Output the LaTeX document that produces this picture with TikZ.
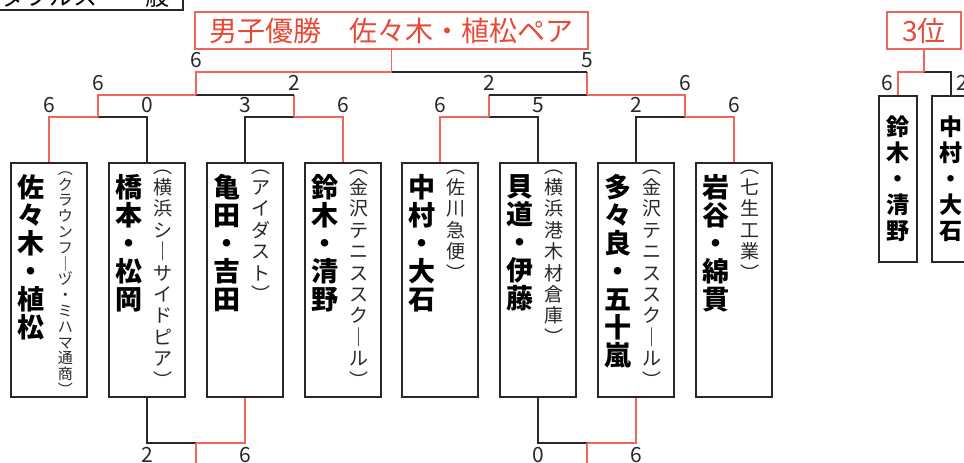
\documentclass[tikz,border=0pt]{standalone}
\usepackage{fontspec}
\newfontfamily\jp{Noto Sans CJK JP}
\usetikzlibrary{positioning}
\definecolor{winred}{RGB}{238,102,92}
\definecolor{headred}{RGB}{232,72,54}
\definecolor{inkgray}{RGB}{40,40,40}

\begin{document}
\begin{tikzpicture}[x=1pt,y=-1pt,
    win/.style={draw=winred,line width=1.3pt},
    lose/.style={draw=inkgray,line width=1.3pt},
    pairbox/.style={draw=inkgray,line width=1.4pt,minimum width=76pt,minimum height=234pt,inner sep=0pt},
    pairname/.style={anchor=north,align=center,inner sep=0pt,text=black,font=\jp\bfseries\fontsize{27}{28}\selectfont},
    firm/.style={anchor=north,align=center,inner sep=0pt,text=inkgray,font=\jp\fontsize{19}{21.4}\selectfont},
    score/.style={inner sep=0pt,text=inkgray,font=\jp\fontsize{21}{21}\selectfont},
    headbox/.style={draw=winred,line width=1.3pt,minimum height=37pt,inner sep=0pt,text=headred,font=\jp\fontsize{28}{28}\selectfont}
  ]
  \useasboundingbox (0,0) rectangle (964,463);
  \clip (0,0) rectangle (964,463);

  \node[draw=inkgray,line width=1.4pt,minimum width=195pt,minimum height=28pt,inner sep=0pt,
        font=\jp\fontsize{24}{24}\selectfont] (tab) at (85.5,-4) {ダブルス　一般};

  \node[headbox,minimum width=393pt] (champ) at (391.5,30.5) {男子優勝　佐々木・植松ペア};
  \node[headbox,minimum width=74pt] (third) at (924,30.5) {3位};

  \foreach \i/\x in {1/49,2/147,3/245,4/343,5/440,6/538,7/636,8/734}
    \node[pairbox] (p\i) at (\x,280) {};

  \node[pairname] (n1) at ([xshift=21pt,yshift=-12pt]p1.north west) {佐\\々\\木\\・\\植\\松};
  \node[pairname] (n2) at ([xshift=21pt,yshift=-12pt]p2.north west) {橋\\本\\・\\松\\岡};
  \node[pairname] (n3) at ([xshift=21pt,yshift=-12pt]p3.north west) {亀\\田\\・\\吉\\田};
  \node[pairname] (n4) at ([xshift=21pt,yshift=-12pt]p4.north west) {鈴\\木\\・\\清\\野};
  \node[pairname] (n5) at ([xshift=21pt,yshift=-12pt]p5.north west) {中\\村\\・\\大\\石};
  \node[pairname] (n6) at ([xshift=21pt,yshift=-12pt]p6.north west) {貝\\道\\・\\伊\\藤};
  \node[pairname] (n7) at ([xshift=21pt,yshift=-12pt]p7.north west) {多\\々\\良\\・\\五\\十\\嵐};
  \node[pairname] (n8) at ([xshift=21pt,yshift=-12pt]p8.north west) {岩\\谷\\・\\綿\\貫};

  \node[firm,font=\jp\fontsize{15}{15.8}\selectfont] (f1) at ([xshift=55pt,yshift=-9pt]p1.north west)
    {︵\\ク\\ラ\\ウ\\ン\\フ\\｜\\ヅ\\・\\ミ\\ハ\\マ\\通\\商\\︶};
  \node[firm] (f2) at ([xshift=55pt,yshift=-7pt]p2.north west) {︵\\横\\浜\\シ\\｜\\サ\\イ\\ド\\ピ\\ア\\︶};
  \node[firm] (f3) at ([xshift=55pt,yshift=-7pt]p3.north west) {︵\\ア\\イ\\ダ\\ス\\ト\\︶};
  \node[firm] (f4) at ([xshift=55pt,yshift=-7pt]p4.north west) {︵\\金\\沢\\テ\\ニ\\ス\\ス\\ク\\｜\\ル\\︶};
  \node[firm] (f5) at ([xshift=55pt,yshift=-7pt]p5.north west) {︵\\佐\\川\\急\\便\\︶};
  \node[firm] (f6) at ([xshift=55pt,yshift=-7pt]p6.north west) {︵\\横\\浜\\港\\木\\材\\倉\\庫\\︶};
  \node[firm] (f7) at ([xshift=55pt,yshift=-7pt]p7.north west) {︵\\金\\沢\\テ\\ニ\\ス\\ス\\ク\\｜\\ル\\︶};
  \node[firm] (f8) at ([xshift=55pt,yshift=-7pt]p8.north west) {︵\\七\\生\\工\\業\\︶};

  \coordinate (q1) at (98,117);
  \coordinate (q2) at (294,117);
  \coordinate (q3) at (489,117);
  \coordinate (q4) at (685,117);
  \coordinate (h1) at (196,95);
  \coordinate (h2) at (587,95);
  \coordinate (fin) at (391.5,72);

  \draw[win]  (p1.north) |- (q1);
  \draw[lose] (p2.north) |- (q1);
  \draw[lose] (p3.north) |- (q2);
  \draw[win]  (p4.north) |- (q2);
  \draw[win]  (p5.north) |- (q3);
  \draw[lose] (p6.north) |- (q3);
  \draw[lose] (p7.north) |- (q4);
  \draw[win]  (p8.north) |- (q4);

  \draw[win]  (q1) |- (h1);
  \draw[win]  (q2) -- (q2 |- h1);
  \draw[lose] (q2 |- h1) -- (h1);
  \draw[win]  (q3) -- (q3 |- h2);
  \draw[lose] (q3 |- h2) -- (h2);
  \draw[win]  (q4) |- (h2);

  \draw[win]  (h1) |- (fin);
  \draw[win]  (h2) -- (h2 |- fin);
  \draw[lose] (h2 |- fin) -- (fin);
  \draw[win]  (fin) -- (champ.south);

  \foreach \i/\s in {1/6,2/0,3/3,4/6,5/6,6/5,7/2,8/6}
    \node[score,anchor=south] (s\i) at ([yshift=4pt]p\i.north |- q1) {\s};
  \foreach \c/\s in {q1/6,q2/2,q3/2,q4/6}
    \node[score,anchor=south] (s\c) at ([yshift=4pt]\c |- h1) {\s};
  \foreach \c/\s in {h1/6,h2/5}
    \node[score,anchor=south] (s\c) at ([yshift=4pt]\c |- fin) {\s};

  % consolation
  \coordinate (c1) at (196,443);
  \coordinate (c2) at (587,443);
  \coordinate (c1end) at (196,470);
  \coordinate (c2end) at (587,470);
  \draw[lose] (p2.south) |- (c1);
  \draw[win]  (p3.south) |- (c1);
  \draw[win]  (c1) -- (c1end);
  \draw[lose] (p6.south) |- (c2);
  \draw[win]  (p7.south) |- (c2);
  \draw[win]  (c2) -- (c2end);
  \node[score,anchor=north] (b2) at ([yshift=-4pt]p2.south |- c1) {2};
  \node[score,anchor=north] (b3) at ([yshift=-4pt]p3.south |- c1) {6};
  \node[score,anchor=north] (b6) at ([yshift=-4pt]p6.south |- c2) {0};
  \node[score,anchor=north] (b7) at ([yshift=-4pt]p7.south |- c2) {6};

  % 3rd place
  \node[pairbox,minimum width=38pt,minimum height=166pt] (t1) at (898,179) {};
  \node[pairbox,minimum width=38pt,minimum height=166pt] (t2) at (951,179) {};
  \node[pairname,font=\jp\bfseries\fontsize{23}{26}\selectfont] (tn1) at ([yshift=-20pt]t1.north) {鈴\\木\\・\\清\\野};
  \node[pairname,font=\jp\bfseries\fontsize{23}{26}\selectfont] (tn2) at ([yshift=-20pt]t2.north) {中\\村\\・\\大\\石};
  \coordinate (tq) at (924,72);
  \draw[win]  (t1.north) |- (tq);
  \draw[lose] (t2.north) |- (tq);
  \draw[win]  (tq) -- (third.south);
  \node[score] (ts1) at (887,83) {6};
  \node[score] (ts2) at (962,83) {2};
\end{tikzpicture}
\end{document}
